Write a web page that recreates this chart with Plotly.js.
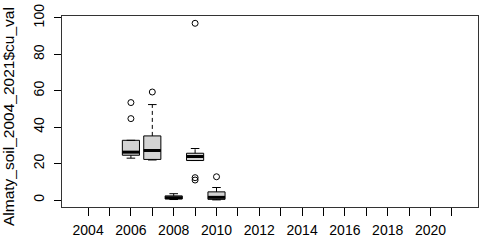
<!DOCTYPE html>
<html>
<head>
<meta charset="utf-8">
<script src="https://cdn.plot.ly/plotly-3.0.1.min.js"></script>
<style>html,body{margin:0;padding:0;background:#fff;}#chart{width:480px;height:243px;}</style>
</head>
<body>
<div id="chart"></div>
<script>
// All year levels on the x axis (factor levels)
const years = [2004,2005,2006,2007,2008,2009,2010,2011,2012,2013,2014,2015,2016,2017,2018,2019,2020,2021];
// Years that have data
const boxYears = [2006, 2007, 2008, 2009, 2010];
// Box statistics
const q1     = [24.6, 22.3, 0.6, 21.7, 0.4];
const median = [26.3, 27.2, 1.3, 23.9, 1.5];
const q3     = [32.8, 35.2, 2.3, 25.7, 4.5];
const lowerW = [23.0, 22.0, 0.3, 21.7, 0.1];
const upperW = [32.8, 52.4, 3.5, 28.3, 6.9];
// Outliers
const outYears  = [2006, 2006, 2007, 2009, 2009, 2009, 2010];
const outValues = [44.7, 53.5, 59.3, 97.0, 11.0, 12.3, 12.8];

const pos = y => years.indexOf(y) + 1;
const boxW = 0.8, capW = 0.4;
const boxX = boxYears.map(pos);

// whiskers (dashed) and caps (solid), median bars (thick)
const wx = [], wy = [], cx = [], cy = [], mx = [], my = [];
boxX.forEach((x, i) => {
  if (upperW[i] > q3[i]) { wx.push(x, x, null); wy.push(q3[i], upperW[i], null); }
  if (lowerW[i] < q1[i]) { wx.push(x, x, null); wy.push(q1[i], lowerW[i], null); }
  cx.push(x - capW/2, x + capW/2, null); cy.push(upperW[i], upperW[i], null);
  cx.push(x - capW/2, x + capW/2, null); cy.push(lowerW[i], lowerW[i], null);
  mx.push(x - boxW/2, x + boxW/2, null); my.push(median[i], median[i], null);
});

const traces = [
  {type:'scatter', mode:'lines', x:wx, y:wy, line:{color:'#000', width:1, dash:'4px,3px'}, hoverinfo:'skip', showlegend:false},
  {type:'scatter', mode:'lines', x:cx, y:cy, line:{color:'#000', width:1}, hoverinfo:'skip', showlegend:false},
  {type:'box', x:boxX, q1:q1, median:median, q3:q3, lowerfence:q1, upperfence:q3,
   width:boxW, whiskerwidth:0, boxpoints:false, fillcolor:'#d3d3d3', line:{color:'#000', width:1}, showlegend:false},
  {type:'scatter', mode:'lines', x:mx, y:my, line:{color:'#000', width:3}, hoverinfo:'skip', showlegend:false},
  {type:'scatter', mode:'markers', x:outYears.map(pos), y:outValues,
   marker:{symbol:'circle-open', size:6, color:'#000', line:{width:1, color:'#000'}}, showlegend:false}
];

const font = {family:'"Liberation Sans", Arial, sans-serif', size:14, color:'#000'};
const layout = {
  width:480, height:243,
  margin:{l:62, r:2, t:16, b:36},
  paper_bgcolor:'#fff', plot_bgcolor:'#fff',
  font:font,
  showlegend:false,
  xaxis:{range:[-0.22, 19.22], tickmode:'array', tickvals:years.map(pos),
         ticktext:years.map((y,i)=> i % 2 === 0 ? String(y) : ''),
         ticks:'outside', ticklen:8, tickcolor:'#000', tickwidth:1, ticklabelstandoff:2,
         showgrid:false, zeroline:false, showline:true, mirror:true, linecolor:'#333', linewidth:1,
         tickfont:font},
  yaxis:{range:[-3.8, 101], tickmode:'array', tickvals:[0,20,40,60,80,100],
         ticks:'outside', ticklen:7, tickcolor:'#000', tickwidth:1, tickangle:-90, ticklabelstandoff:4,
         showgrid:false, zeroline:false, showline:true, mirror:true, linecolor:'#333', linewidth:1,
         tickfont:font},
  annotations:[{text:'Almaty_soil_2004_2021$cu_val', textangle:-90, showarrow:false,
    xref:'paper', yref:'paper', x:(8-62)/416, y:(207-117)/191, xanchor:'center', yanchor:'middle',
    font:{family:'"Liberation Sans", Arial, sans-serif', size:15.5, color:'#000'}}]
};
Plotly.newPlot('chart', traces, layout, {staticPlot:true, displayModeBar:false});
</script>
</body>
</html>
